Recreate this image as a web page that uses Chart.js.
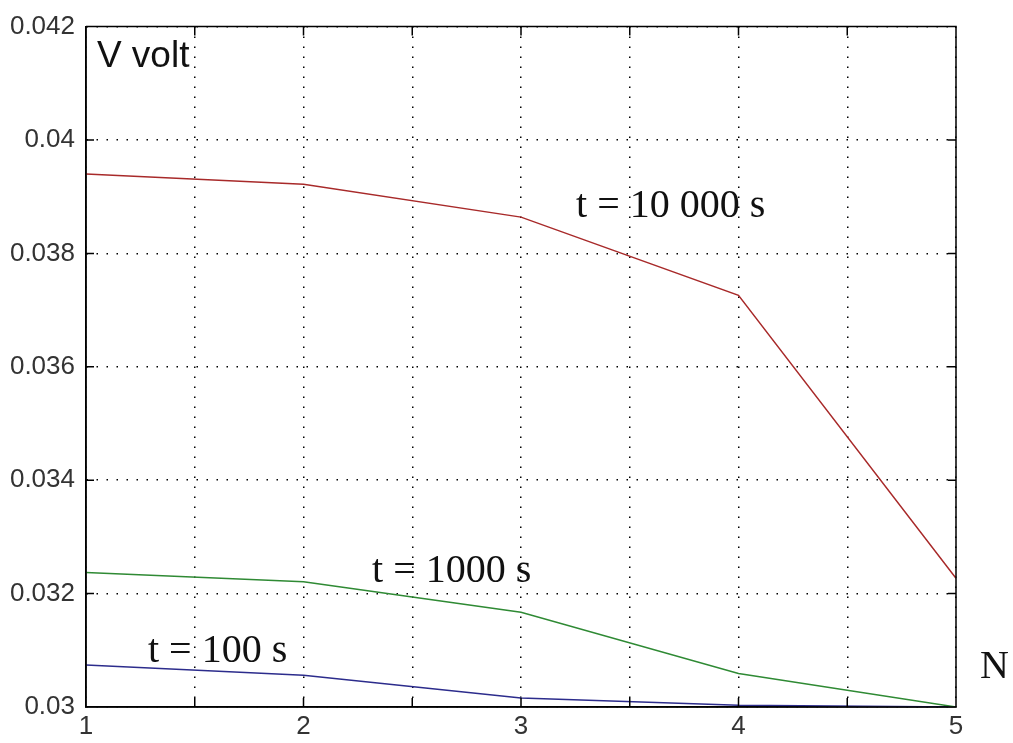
<!DOCTYPE html>
<html>
<head>
<meta charset="utf-8">
<title>V volt vs N</title>
<script src="https://cdn.jsdelivr.net/npm/chart.js@4.4.1/dist/chart.umd.min.js"></script>
<style>
    html, body { margin: 0; padding: 0; background: #fff; }
    #wrap { width: 1013px; height: 743px; position: relative; }
</style>
</head>
<body>
<div id="wrap"><canvas id="voltChart"></canvas></div>
<script>
// data
var nValues = [1, 2, 3, 4, 5];
var v10000 = [0.03940, 0.03922, 0.03864, 0.03726, 0.03227];
var v1000 = [0.03237, 0.03221, 0.03167, 0.03059, 0.03000];
var v100 = [0.03074, 0.03056, 0.03016, 0.03003, 0.03000];

var xTickLabels = ['1', '2', '3', '4', '5'];
var yTickLabels = ['0.03', '0.032', '0.034', '0.036', '0.038', '0.04', '0.042'];

// text placed on the plot, in data units
var noteText = ['V volt', 't = 10 000 s', 't = 1000 s', 't = 100 s', 'N'];
var noteX = [1.05, 3.253, 2.315, 1.285, 5.11];
var noteY = [0.04128, 0.03865, 0.03221, 0.03079, 0.03051];
var noteFont = ['37px "Liberation Sans", Arial, sans-serif',
    '40px "Liberation Serif", "Times New Roman", serif',
    '40px "Liberation Serif", "Times New Roman", serif',
    '40px "Liberation Serif", "Times New Roman", serif',
    '40px "Liberation Serif", "Times New Roman", serif'];

var voltChart = '';

function toPoints(ys){
    return nValues.map(function(n, i){
        return {x: n, y: ys[i]};
    });
}

// matlab style box: top/right edges and inward tick marks
var boxPlugin = {
    id: 'boxPlugin',
    afterDatasetsDraw: function(chart){
        var ctx = chart.ctx;
        var a = chart.chartArea;
        var xs = chart.scales.x;
        var ys = chart.scales.y;
        ctx.save();
        ctx.strokeStyle = '#000';
        ctx.lineWidth = 1.5;
        ctx.beginPath();
        ctx.moveTo(a.left, a.top);
        ctx.lineTo(a.right, a.top);
        ctx.lineTo(a.right, a.bottom);
        ctx.lineTo(a.left, a.bottom);
        ctx.lineTo(a.left, a.top);
        xs.ticks.forEach(function(t){
            var px = xs.getPixelForValue(t.value);
            ctx.moveTo(px, a.bottom);
            ctx.lineTo(px, a.bottom - 9);
            ctx.moveTo(px, a.top);
            ctx.lineTo(px, a.top + 9);
        });
        ys.ticks.forEach(function(t){
            var py = ys.getPixelForValue(t.value);
            ctx.moveTo(a.left, py);
            ctx.lineTo(a.left + 8, py);
            ctx.moveTo(a.right, py);
            ctx.lineTo(a.right - 8, py);
        });
        ctx.stroke();
        ctx.restore();
    }
};

var notesPlugin = {
    id: 'notesPlugin',
    afterDraw: function(chart){
        var ctx = chart.ctx;
        var xs = chart.scales.x;
        var ys = chart.scales.y;
        ctx.save();
        ctx.fillStyle = '#111';
        ctx.textAlign = 'left';
        ctx.textBaseline = 'alphabetic';
        noteText.forEach(function(txt, i){
            ctx.font = noteFont[i];
            ctx.fillText(txt, xs.getPixelForValue(noteX[i]), ys.getPixelForValue(noteY[i]));
        });
        ctx.restore();
    }
};

function handleChart(){
    var gridStyle = {
        display: true,
        color: '#000',
        lineWidth: 1.5,
        drawTicks: false
    };
    var tickFont = {family: '"Liberation Sans", Arial, sans-serif', size: 26};

    var data = {
        datasets: [{
            label: 't = 10 000 s',
            borderColor: '#a82a2a',
            data: toPoints(v10000)
        },
        {
            label: 't = 1000 s',
            borderColor: '#2f8a34',
            data: toPoints(v1000)
        },
        {
            label: 't = 100 s',
            borderColor: '#2c2c8c',
            data: toPoints(v100)
        }]
    };

    var config = {
        type: 'line',
        data: data,
        options: {
            responsive: true,
            maintainAspectRatio: false,
            devicePixelRatio: 1,
            animation: false,
            layout: {
                padding: {top: 22, right: 57, bottom: 0, left: 0}
            },
            elements: {
                line: {borderWidth: 1.5, tension: 0, fill: false},
                point: {radius: 0}
            },
            plugins: {
                legend: {display: false},
                tooltip: {enabled: false}
            },
            scales: {
                x: {
                    type: 'linear',
                    min: 1,
                    max: 5,
                    grid: Object.assign({}, gridStyle),
                    border: {display: true, color: '#000', width: 1.5, dash: [1.5, 8.5]},
                    ticks: {
                        stepSize: 0.5,
                        autoSkip: false,
                        maxRotation: 0,
                        padding: 4,
                        color: '#333',
                        font: tickFont,
                        callback: function(v){
                            var idx = xTickLabels.indexOf(String(v));
                            return idx >= 0 ? xTickLabels[idx] : '';
                        }
                    },
                    afterFit: function(s){ s.height = 36; }
                },
                y: {
                    type: 'linear',
                    min: 0.03,
                    max: 0.042,
                    grid: Object.assign({}, gridStyle),
                    border: {display: true, color: '#000', width: 1.5, dash: [1.5, 8.5]},
                    ticks: {
                        stepSize: 0.002,
                        padding: 11,
                        color: '#333',
                        font: tickFont,
                        callback: function(v){
                            var s = String(parseFloat(v.toFixed(3)));
                            return yTickLabels.indexOf(s) >= 0 ? s : '';
                        }
                    },
                    afterFit: function(s){ s.width = 86; }
                }
            }
        },
        plugins: [boxPlugin, notesPlugin]
    };

    voltChart = new Chart(document.getElementById('voltChart'), config);
}

handleChart();
</script>
</body>
</html>
